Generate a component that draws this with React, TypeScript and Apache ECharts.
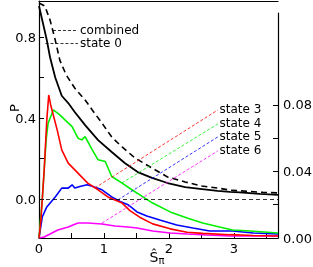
import React, { useEffect, useRef } from "react";
import * as echarts from "echarts";

// ---- data (x = ŝπ) ----
const state0X = [0, 0.06, 0.12, 0.17, 0.25, 0.35, 0.45, 0.55, 0.71, 0.91, 1.12, 1.32, 1.52, 1.74, 1.98, 2.25, 2.51, 2.75, 2.94, 3.09, 3.4, 3.68];
const state0Y = [0.953, 0.869, 0.785, 0.7, 0.6, 0.51, 0.474, 0.43, 0.365, 0.291, 0.232, 0.178, 0.133, 0.104, 0.079, 0.059, 0.049, 0.04, 0.035, 0.033, 0.025, 0.02];

const combinedX = [0, 0.09, 0.17, 0.25, 0.32, 0.42, 0.55, 0.71, 0.82, 0.97, 1.12, 1.28, 1.48, 1.74, 1.98, 2.25, 2.51, 2.75, 2.94, 3.2, 3.45, 3.68];
const combinedY = [0.968, 0.953, 0.884, 0.785, 0.686, 0.612, 0.548, 0.489, 0.44, 0.375, 0.306, 0.257, 0.202, 0.153, 0.109, 0.084, 0.064, 0.054, 0.044, 0.038, 0.033, 0.03];

const state3X = [0, 0.03, 0.08, 0.12, 0.15, 0.18, 0.22, 0.28, 0.35, 0.45, 0.6, 0.75, 0.91, 1.06, 1.28, 1.4, 1.55, 1.75, 2.02, 2.28, 2.52, 2.94, 3.3, 3.68];
const state3Y = [0, 0.011, 0.041, 0.071, 0.086, 0.08, 0.074, 0.065, 0.053, 0.045, 0.039, 0.033, 0.029, 0.0247, 0.021, 0.0165, 0.0125, 0.0085, 0.0055, 0.0035, 0.0028, 0.002, 0.0015, 0.0012];

const state4X = [0, 0.05, 0.11, 0.14, 0.22, 0.32, 0.4, 0.51, 0.6, 0.66, 0.71, 0.82, 0.91, 1.02, 1.12, 1.28, 1.43, 1.6, 1.75, 2.02, 2.28, 2.52, 2.78, 2.98, 3.25, 3.68];
const state4Y = [0, 0.023, 0.059, 0.069, 0.077, 0.074, 0.071, 0.067, 0.06, 0.059, 0.061, 0.053, 0.047, 0.046, 0.037, 0.033, 0.029, 0.0247, 0.021, 0.0157, 0.012, 0.009, 0.0066, 0.0048, 0.0042, 0.003];

const state5X = [0, 0.02, 0.05, 0.12, 0.25, 0.35, 0.45, 0.51, 0.55, 0.63, 0.74, 0.83, 0.97, 1.12, 1.25, 1.37, 1.51, 1.66, 1.86, 2.12, 2.37, 2.63, 2.98, 3.3, 3.68];
const state5Y = [0, 0.005, 0.0126, 0.0187, 0.0247, 0.03, 0.03, 0.032, 0.03, 0.031, 0.032, 0.031, 0.029, 0.0247, 0.022, 0.02, 0.0157, 0.0132, 0.0108, 0.0078, 0.006, 0.0042, 0.0042, 0.003, 0.0024];

const state6X = [0, 0.08, 0.17, 0.29, 0.45, 0.6, 0.75, 0.97, 1.17, 1.37, 1.51, 1.75, 2.02, 2.28, 2.58, 2.94, 3.3, 3.68];
const state6Y = [0, 0.0006, 0.0024, 0.0048, 0.0066, 0.009, 0.009, 0.0084, 0.0072, 0.0066, 0.006, 0.0042, 0.003, 0.0024, 0.0018, 0.0012, 0.0012, 0.0012];

// annotation leaders: [from x, from y, to x, to y] in data units
const combinedLeader = [0.215, 0.835, 0.6, 0.835];
const state0Leader = [0.1, 0.77, 0.6, 0.77];
const state3Leader = [0.86, 0.0301, 2.754, 0.077];
const state4Leader = [1.277, 0.0331, 2.754, 0.0686];
const state5Leader = [1.215, 0.0229, 2.754, 0.0608];
const state6Leader = [0.969, 0.009, 2.754, 0.0524];

const xTicks = [0, 0.5, 1, 1.5, 2, 2.5, 3, 3.5];
const xLabels = [0, 1, 2, 3];
const leftTicks = [0, 0.2, 0.4, 0.6, 0.8];
const leftLabels = [0, 0.4, 0.8];
const rightTicks = [0, 0.02, 0.04, 0.06, 0.08];
const rightLabels = [0, 0.04, 0.08];

const FONT = "DejaVu Sans";
const FS = 13;
const LFS = 12;

const zip = (xs: number[], ys: number[]) => xs.map((x, i) => [x, ys[i]]);

function leader(l: number[], name: string, color: string, width: number, dash: any) {
  return {
    symbol: ["none", "none"],
    silent: true,
    animation: false,
    lineStyle: { color, width, type: dash },
    label: {
      show: true,
      position: "end",
      distance: 2,
      formatter: name,
      color: "#000",
      fontFamily: FONT,
      fontSize: LFS,
      lineHeight: 12,
    },
    data: [[{ coord: [l[0], l[1]] }, { coord: [l[2], l[3]] }]],
  };
}

export default function App() {
  const ref = useRef<HTMLDivElement>(null);
  useEffect(() => {
    if (!ref.current) return;
    const chart = echarts.init(ref.current, undefined, { renderer: "svg" });
    const axisLine = { show: true, onZero: false, lineStyle: { color: "#000", width: 1.2 } };
    const labelStyle = { color: "#000", fontFamily: FONT, fontSize: FS };
    const colored = (name: string, xs: number[], ys: number[], color: string, l: number[]) => ({
      name,
      type: "line",
      xAxisIndex: 2,
      yAxisIndex: 1,
      data: zip(xs, ys),
      showSymbol: false,
      symbol: "none",
      lineStyle: { color, width: 1.6 },
      markLine: leader(l, name, color, 0.8, [3, 2]),
    });
    chart.setOption({
      animation: false,
      grid: [
        { left: 39, right: 35, top: 1, bottom: 29, containLabel: false, outerBoundsMode: "none" },
        { left: 39, right: 35, top: 13, bottom: 29, containLabel: false, outerBoundsMode: "none" },
      ],
      xAxis: [
        {
          type: "value",
          gridIndex: 0,
          position: "bottom",
          min: 0,
          max: 3.68,
          axisLine,
          axisTick: { show: true, inside: true, length: 5, customValues: xTicks, lineStyle: { color: "#000" } },
          axisLabel: { ...labelStyle, margin: 4, customValues: xLabels, formatter: (v: number) => String(v) },
          splitLine: { show: false },
        },
        {
          type: "value",
          gridIndex: 0,
          position: "top",
          min: 0,
          max: 3.68,
          axisLine,
          axisTick: { show: false },
          axisLabel: { show: false },
          splitLine: { show: false },
        },
        {
          type: "value",
          gridIndex: 1,
          min: 0,
          max: 3.68,
          show: false,
          splitLine: { show: false },
        },
      ],
      yAxis: [
        {
          type: "value",
          gridIndex: 0,
          position: "left",
          min: -0.1926,
          max: 0.978,
          axisLine,
          axisTick: { show: true, inside: true, length: 5, customValues: leftTicks, lineStyle: { color: "#000" } },
          axisLabel: { ...labelStyle, margin: 3, customValues: leftLabels, formatter: (v: number) => v.toFixed(1) },
          splitLine: { show: false },
        },
        {
          type: "value",
          gridIndex: 1,
          position: "right",
          min: 0,
          max: 0.1353,
          axisLine,
          axisTick: { show: true, inside: true, length: 5, customValues: rightTicks, lineStyle: { color: "#000" } },
          axisLabel: { ...labelStyle, margin: 5, customValues: rightLabels, formatter: (v: number) => v.toFixed(2) },
          splitLine: { show: false },
        },
      ],
      graphic: [
        {
          type: "text",
          x: 14,
          y: 108,
          rotation: Math.PI / 2,
          style: { text: "P", fontFamily: FONT, fontSize: FS, fill: "#000", align: "center", verticalAlign: "middle" },
        },
        {
          type: "text",
          x: 157,
          y: 249,
          style: {
            text: "{s|Ŝ}{p|π}",
            align: "center",
            verticalAlign: "top",
            rich: {
              s: { fontFamily: FONT, fontSize: 14, fill: "#000", lineHeight: 16 },
              p: { fontFamily: FONT, fontSize: 10, fill: "#000", lineHeight: 16, padding: [6, 0, 0, 0] },
            },
          },
        },
      ],
      series: [
        colored("state 6", state6X, state6Y, "#ff00ff", state6Leader),
        colored("state 5", state5X, state5Y, "#0000ff", state5Leader),
        colored("state 4", state4X, state4Y, "#00f000", state4Leader),
        colored("state 3", state3X, state3Y, "#ff0000", state3Leader),
        {
          name: "combined",
          type: "line",
          xAxisIndex: 0,
          yAxisIndex: 0,
          data: zip(combinedX, combinedY),
          showSymbol: false,
          symbol: "none",
          lineStyle: { color: "#000", width: 1.6, type: [6, 4] },
          markLine: leader(combinedLeader, "combined", "#000", 0.8, [3, 2]),
        },
        {
          name: "state 0",
          type: "line",
          xAxisIndex: 0,
          yAxisIndex: 0,
          data: zip(state0X, state0Y),
          showSymbol: false,
          symbol: "none",
          lineStyle: { color: "#000", width: 1.8 },
          markLine: leader(state0Leader, "state 0", "#000", 0.8, [3, 2]),
        },
        {
          name: "zero",
          type: "line",
          xAxisIndex: 0,
          yAxisIndex: 0,
          data: [],
          markLine: {
            symbol: ["none", "none"],
            silent: true,
            label: { show: false },
            lineStyle: { color: "#000", width: 0.8, type: [4, 3] },
            data: [{ yAxis: 0 }],
          },
        },
      ],
    });
    return () => chart.dispose();
  }, []);
  return <div ref={ref} style={{ position: "fixed", left: 0, top: 0, width: 313, height: 267 }} />;
}
